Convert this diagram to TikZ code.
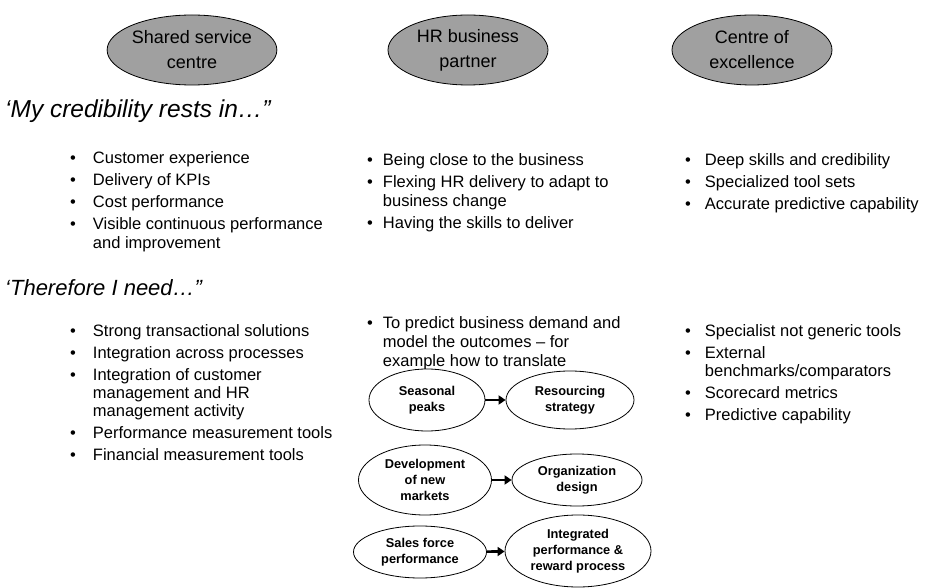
\documentclass[tikz,border=0pt]{standalone}
\usepackage{fontspec}
\setmainfont{Liberation Sans}
\usetikzlibrary{arrows.meta,positioning,shapes.geometric}
\definecolor{rolegray}{RGB}{160,160,160}
\tikzset{
  role/.style={ellipse, draw=black, fill=rolegray, line width=0.8pt, inner sep=0pt,
    minimum width=160pt, minimum height=70pt, align=center,
    font=\fontsize{18}{25}\selectfont},
  cause/.style={ellipse, draw=black, fill=white, line width=0.8pt, inner sep=0pt,
    align=center, font=\fontsize{12.8}{16}\selectfont\bfseries},
  lead/.style={anchor=base west, inner sep=0pt, font=\fontsize{22}{26}\selectfont\itshape},
  blist/.style={anchor=base west, inner sep=0pt, font=\fontsize{16.5}{18.5}\selectfont},
  flow/.style={-{Triangle[length=7pt,width=9pt]}, line width=2.6pt}
}

\begin{document}
\begin{tikzpicture}[x=1pt, y=-1pt]
  \useasboundingbox (0,0) rectangle (927,588);

  % the three roles
  \node[role] (ssc)  at (192,50) {Shared service\\centre};
  \node[role] (hrbp) at (468,50) {HR business\\partner};
  \node[role] (coe)  at (752,50) {Centre of\\excellence};

  % credibility
  \node[lead, font=\fontsize{24.5}{28}\selectfont\itshape] (cred) at (5,118) {‘My credibility rests in…”};
  \node[blist] (ssc-cred) at (70,164) {\begin{tabular}[t]{@{}l@{\hspace{17pt}}l@{}}
    \textbullet & Customer experience\\[3.5pt]
    \textbullet & Delivery of KPIs\\[3.5pt]
    \textbullet & Cost performance\\[3.5pt]
    \textbullet & Visible continuous performance\\
                & and improvement
  \end{tabular}};
  \node[blist] (hrbp-cred) at (367,166) {\begin{tabular}[t]{@{}l@{\hspace{10pt}}l@{}}
    \textbullet & Being close to the business\\[3.5pt]
    \textbullet & Flexing HR delivery to adapt to\\
                & business change\\[3.5pt]
    \textbullet & Having the skills to deliver
  \end{tabular}};
  \node[blist] (coe-cred) at (685,166) {\begin{tabular}[t]{@{}l@{\hspace{14pt}}l@{}}
    \textbullet & Deep skills and credibility\\[3.5pt]
    \textbullet & Specialized tool sets\\[3.5pt]
    \textbullet & Accurate predictive capability
  \end{tabular}};

  % needs
  \node[lead] (need) at (5,295) {‘Therefore I need…”};
  \node[blist] (ssc-need) at (70,336) {\begin{tabular}[t]{@{}l@{\hspace{17pt}}l@{}}
    \textbullet & Strong transactional solutions\\[3.5pt]
    \textbullet & Integration across processes\\[3.5pt]
    \textbullet & Integration of customer\\
                & management and HR\\
                & management activity\\[3.5pt]
    \textbullet & Performance measurement tools\\[3.5pt]
    \textbullet & Financial measurement tools
  \end{tabular}};
  \node[blist] (hrbp-need) at (367,329) {\begin{tabular}[t]{@{}l@{\hspace{10pt}}l@{}}
    \textbullet & To predict business demand and\\
                & model the outcomes – for\\
                & example how to translate
  \end{tabular}};
  \node[blist] (coe-need) at (685,336) {\begin{tabular}[t]{@{}l@{\hspace{14pt}}l@{}}
    \textbullet & Specialist not generic tools\\[3.5pt]
    \textbullet & External\\
                & benchmarks/comparators\\[3.5pt]
    \textbullet & Scorecard metrics\\[3.5pt]
    \textbullet & Predictive capability
  \end{tabular}};

  % demand -> outcome
  \node[cause, minimum width=116pt, minimum height=62pt] (seas)  at (427,400) {Seasonal\\peaks};
  \node[cause, minimum width=128pt, minimum height=58pt] (resr)  at (570,400) {Resourcing\\strategy};
  \node[cause, minimum width=133pt, minimum height=70pt] (devt)  at (425,480) {Development\\of new\\markets};
  \node[cause, minimum width=130pt, minimum height=52pt] (orgd)  at (577,480) {Organization\\design};
  \node[cause, minimum width=133pt, minimum height=52pt] (sales) at (420,552) {Sales force\\performance};
  \node[cause, minimum width=146pt, minimum height=72pt] (integ) at (578,551) {Integrated\\performance \&\\reward process};

  \draw[flow] (seas)  -- (resr);
  \draw[flow] (devt)  -- (orgd);
  \draw[flow] (sales) -- (integ);
\end{tikzpicture}
\end{document}
